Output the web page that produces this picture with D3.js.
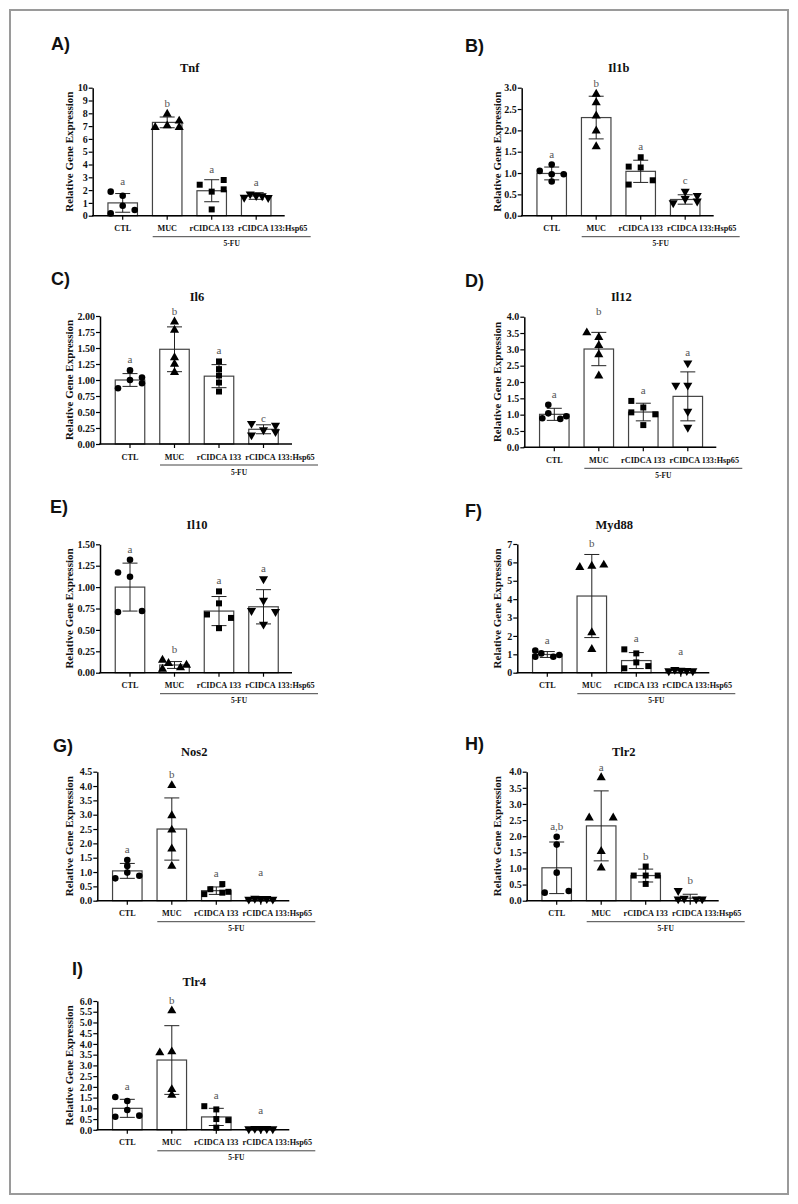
<!DOCTYPE html>
<html><head><meta charset="utf-8">
<script src="https://cdn.jsdelivr.net/npm/d3@7"></script>
<style>body{margin:0;background:#fff}</style>
</head><body>
<svg id="c" width="798" height="1204"></svg>
<script>
// ---------------- DATA ----------------
const groups = ["CTL", "MUC", "rCIDCA 133", "rCIDCA 133:Hsp65"];
const treatLabel = "5-FU";
const yLabelText = "Relative Gene Expression";

const tnfMean = [1.00, 7.29, 1.95, 1.54];
const tnfSD = [0.73, 0.42, 0.86, 0.26];
const tnfPoints = [[1.88,1.56,0.78,0.44,0.18],[6.90,7.94,7.03,7.40,6.90],[2.42,1.88,0.49,2.79,2.06],[1.43,1.69,1.56,1.54,1.41]];
const tnfLetters = ["a","b","a","a"];
const tnfTicks = [0,1,2,3,4,5,6,7,8,9,10];

const il1bMean = [0.99, 2.30, 1.04, 0.38];
const il1bSD = [0.15, 0.50, 0.26, 0.11];
const il1bPoints = [[1.05,1.20,0.97,0.80,0.97],[2.85,2.65,2.34,1.99,1.62],[1.15,1.37,1.13,0.73,0.83],[0.30,0.57,0.40,0.47,0.34]];
const il1bLetters = ["a","b","a","c"];
const il1bTicks = [0,0.5,1.0,1.5,2.0,2.5,3.0];

const il6Mean = [1.00, 1.48, 1.06, 0.23];
const il6SD = [0.10, 0.35, 0.18, 0.07];
const il6Points = [[0.87,1.15,1.00,1.04,0.95],[1.91,1.78,1.35,1.25,1.12],[1.29,1.17,1.07,0.96,0.82],[0.32,0.14,0.22,0.29,0.19]];
const il6Letters = ["a","b","a","c"];
const il6Ticks = [0,0.25,0.5,0.75,1.0,1.25,1.5,1.75,2.0];

const il12Mean = [1.01, 3.01, 1.08, 1.56];
const il12SD = [0.185, 0.51, 0.27, 0.75];
const il12Points = [[0.89,1.30,1.04,0.87,0.95],[3.51,3.37,3.12,2.84,2.19],[1.42,1.07,1.22,0.68,1.01],[1.90,2.58,1.90,1.10,0.61]];
const il12Letters = ["a","b","a","a"];
const il12Ticks = [0,0.5,1.0,1.5,2.0,2.5,3.0,3.5,4.0];

const il10Mean = [1.00, 0.09, 0.72, 0.77];
const il10SD = [0.28, 0.04, 0.17, 0.20];
const il10Points = [[1.17,1.32,1.12,0.71,0.72],[0.148,0.043,0.109,0.058,0.09],[0.68,0.95,0.81,0.52,0.64],[0.725,1.095,0.845,0.565,0.713]];
const il10Letters = ["a","b","a","a"];
const il10Ticks = [0,0.25,0.5,0.75,1.0,1.25,1.5];

const myd88Mean = [0.99, 4.17, 0.66, 0.13];
const myd88SD = [0.16, 2.26, 0.435, 0.03];
const myd88Points = [[1.20,0.87,1.05,0.87,0.96],[5.73,5.80,5.86,2.18,1.27],[1.27,1.05,0.56,0.24,0.36],[0.10,0.17,0.12,0.11,0.10]];
const myd88Letters = ["a","b","a","a"];
const myd88Ticks = [0,1,2,3,4,5,6,7];

const nos2Mean = [1.04, 2.50, 0.35, 0.06];
const nos2SD = [0.26, 1.085, 0.13, 0.02];
const nos2Points = [[0.78,1.42,1.21,0.98,0.87],[4.02,2.97,2.47,1.81,1.21],[0.23,0.40,0.58,0.28,0.31],[0.05,0.08,0.07,0.07,0.05]];
const nos2Letters = ["a","b","a","a"];
const nos2Ticks = [0,0.5,1.0,1.5,2.0,2.5,3.0,3.5,4.0,4.5];

const tlr2Mean = [1.02, 2.32, 0.78, 0.08];
const tlr2SD = [0.80, 1.085, 0.20, 0.12];
const tlr2Points = [[0.25,1.98,1.74,0.87,0.30],[2.57,3.82,1.53,1.02,2.57],[0.78,1.06,0.78,0.52,0.78],[0.31,0.05,0.07,0.05,0.05]];
const tlr2Letters = ["a,b","a","b","b"];
const tlr2Ticks = [0,0.5,1.0,1.5,2.0,2.5,3.0,3.5,4.0];

const tlr4Mean = [1.00, 3.25, 0.60, 0.05];
const tlr4SD = [0.42, 1.60, 0.40, 0.03];
const tlr4Points = [[1.53,1.34,0.92,0.61,0.66],[5.55,3.59,3.64,1.88,1.62],[1.10,0.95,0.50,0.45,0.10],[0.04,0.06,0.05,0.05,0.04]];
const tlr4Letters = ["a","b","a","a"];
const tlr4Ticks = [0,0.5,1.0,1.5,2.0,2.5,3.0,3.5,4.0,4.5,5.0,5.5,6.0];

// letter anchors (data units) where the letter sits not right above the data
const il6LetterAt = [null,null,null,0.227];
const il12LetterAt = [null,3.83,null,null];
const myd88LetterAt = [null,null,null,0.57];
const nos2LetterAt = [null,null,null,0.63];
const tlr4LetterAt = [null,null,null,0.41];

// ---------------- LAYOUT ----------------
const labelShift = [0, 0, 0, 16.5]; // x-label offsets from bar centres
const panels = [
  {tag:"A)", title:"Tnf",   mean:tnfMean,   sd:tnfSD,   pts:tnfPoints,   letters:tnfLetters,   ticks:tnfTicks,   fmt:"d",   x0:92.7,  y0:215.7, top:87.7,  tagX:70,  tagY:50,  left:true,
   jit:[[-2,0,0,2,-2],[-2,0,0,2,2],[-2,0,0,2,2],[-2,-1,0,1,2]]},
  {tag:"B)", title:"Il1b",  mean:il1bMean,  sd:il1bSD,  pts:il1bPoints,  letters:il1bLetters,  ticks:il1bTicks,  fmt:".1f", x0:521.7, y0:215.7, top:87.7,  tagX:465, tagY:52,  left:false,
   jit:[[-2,0,0,0,2],[0,0,0,0,0],[-2,0,0,-2,2],[-2,0,0,2,2]]},
  {tag:"C)", title:"Il6",   mean:il6Mean,   sd:il6SD,   pts:il6Points,   letters:il6Letters,   ticks:il6Ticks,   fmt:".2f", x0:100,   y0:444,   top:316,   tagX:70,  tagY:285, left:true, letterAt:il6LetterAt,
   jit:[[-2,0,0,2,2],[0,0,0,0,0],[0,0,0,0,0],[-2,-2,0,2,2]]},
  {tag:"D)", title:"Il12",  mean:il12Mean,  sd:il12SD,  pts:il12Points,  letters:il12Letters,  ticks:il12Ticks,  fmt:".1f", x0:524.3, y0:447.3, top:316.7, tagX:465, tagY:287, left:false, letterAt:il12LetterAt,
   jit:[[-2,-1,-1,1,2],[-2,0,0,0,0],[-2,-2,0,0,2],[-2,0,0,0,0]]},
  {tag:"E)", title:"Il10",  mean:il10Mean,  sd:il10SD,  pts:il10Points,  letters:il10Letters,  ticks:il10Ticks,  fmt:".2f", x0:100,   y0:672.7, top:544.3, tagX:68,  tagY:513, left:true,
   jit:[[-2,0,0,-2,2],[-2,-2,-1,1,2],[-2,0,0,0,2],[-2,0,0,0,2]]},
  {tag:"F)", title:"Myd88", mean:myd88Mean, sd:myd88SD, pts:myd88Points, letters:myd88Letters, ticks:myd88Ticks, fmt:"d",   x0:517.3, y0:672.7, top:544,   tagX:465, tagY:517, left:false, letterAt:myd88LetterAt,
   jit:[[-2,-2,-1,1,2],[-2,0,2,0,0],[-2,0,0,-2,2],[-2,-1,0,1,2]]},
  {tag:"G)", title:"Nos2",  mean:nos2Mean,  sd:nos2SD,  pts:nos2Points,  letters:nos2Letters,  ticks:nos2Ticks,  fmt:".1f", x0:97.3,  y0:900.7, top:771.7, tagX:73,  tagY:752, left:true, letterAt:nos2LetterAt,
   jit:[[-2,0,0,0,2],[0,0,0,0,0],[-2,-1,1,1,2],[-2,-1,0,1,2]]},
  {tag:"H)", title:"Tlr2",  mean:tlr2Mean,  sd:tlr2SD,  pts:tlr2Points,  letters:tlr2Letters,  ticks:tlr2Ticks,  fmt:".1f", x0:526.7, y0:900.7, top:771.7, tagX:465, tagY:750, left:false,
   jit:[[-2,0,0,0,2],[-2,0,0,0,2],[-2,0,0,0,2],[-2,-2,-1,1,2]]},
  {tag:"I)", title:"Tlr4",  mean:tlr4Mean,  sd:tlr4SD,  pts:tlr4Points,  letters:tlr4Letters,  ticks:tlr4Ticks,  fmt:".1f", x0:97.3,  y0:1129.8, top:1001, tagX:83,  tagY:975, left:true, letterAt:tlr4LetterAt,
   jit:[[-2,0,0,-2,2],[0,-2,0,0,0],[-2,0,0,2,0],[-2,-1,0,1,2]]}
];

const serif = "'Liberation Serif','Times New Roman',serif";
const sans = "'Liberation Sans',Arial,sans-serif";
const svg = d3.select("#c");

svg.append("rect").attr("x",10).attr("y",10).attr("width",778).attr("height",1184)
  .attr("fill","none").attr("stroke","#9a9a9a").attr("stroke-width",2);

const symbols = [
  d3.symbol().type(d3.symbolCircle).size(34),
  d3.symbol().type(d3.symbolTriangle).size(36),
  d3.symbol().type(d3.symbolSquare).size(36),
  d3.symbol().type(d3.symbolTriangle).size(36)
];
const rot = [0,0,0,180];

panels.forEach(p => {
  const g = svg.append("g");
  const maxV = p.ticks[p.ticks.length-1];
  const y = d3.scaleLinear().domain([0,maxV]).range([p.y0,p.top]);
  const x = d3.scaleBand().domain(groups).range([p.x0+7.75, p.x0+185.75]).paddingInner(0.337).paddingOuter(0.1685);
  const cx = gname => x(gname) + x.bandwidth()/2;
  const axisEnd = p.x0 + 192;

  // tag
  g.append("text").attr("x",p.tagX).attr("y",p.tagY)
    .attr("text-anchor", p.left ? "end" : "start")
    .attr("font-family",sans).attr("font-weight","bold").attr("font-size",18).attr("fill","#111").text(p.tag);
  // title
  g.append("text").attr("x",p.x0+97).attr("y",p.top-15.5).attr("text-anchor","middle")
    .attr("font-family",serif).attr("font-weight","bold").attr("font-size",12.5).attr("fill","#111").text(p.title);

  // bars
  g.selectAll("rect.bar").data(groups).enter().append("rect")
    .attr("x", d => x(d)).attr("width", x.bandwidth())
    .attr("y", (d,i) => y(p.mean[i])).attr("height", (d,i) => p.y0 - y(p.mean[i]))
    .attr("fill","#fff").attr("stroke","#444").attr("stroke-width",1.2);

  // error bars
  groups.forEach((gn,i) => {
    const c = cx(gn), hi = y(p.mean[i]+p.sd[i]), lo = y(Math.max(0,p.mean[i]-p.sd[i]));
    g.append("line").attr("x1",c).attr("x2",c).attr("y1",hi).attr("y2",lo).attr("stroke","#222").attr("stroke-width",1);
    [hi,lo].forEach(yy => g.append("line").attr("x1",c-7.5).attr("x2",c+7.5).attr("y1",yy).attr("y2",yy).attr("stroke","#222").attr("stroke-width",1));
  });

  // points
  groups.forEach((gn,i) => {
    const c = cx(gn);
    p.pts[i].forEach((v,k) => {
      g.append("path").attr("d", symbols[i]())
        .attr("transform", `translate(${c + p.jit[i][k]*6},${y(v)}) rotate(${rot[i]})`)
        .attr("fill","#000");
    });
  });

  // letters
  groups.forEach((gn,i) => {
    let anchor = Math.max(p.mean[i]+p.sd[i], d3.max(p.pts[i]));
    if (p.letterAt && p.letterAt[i] != null) anchor = p.letterAt[i];
    g.append("text").attr("x",cx(gn)).attr("y",y(anchor)-7).attr("text-anchor","middle")
      .attr("font-family",serif).attr("font-size",11).attr("fill","#555").text(p.letters[i]);
  });

  // y axis
  const ya = d3.axisLeft(y).tickValues(p.ticks).tickFormat(d3.format(p.fmt)).tickSize(4).tickSizeOuter(0).tickPadding(1);
  const yg = g.append("g").attr("transform",`translate(${p.x0},0)`).call(ya);
  yg.select(".domain").attr("stroke","#000").attr("stroke-width",1.5);
  yg.selectAll(".tick line").attr("stroke","#000").attr("stroke-width",1.2);
  yg.selectAll(".tick text").attr("font-family",serif).attr("font-weight","bold").attr("font-size",10).attr("fill","#111");

  // x axis
  g.append("line").attr("x1",p.x0-0.75).attr("x2",axisEnd).attr("y1",p.y0).attr("y2",p.y0).attr("stroke","#000").attr("stroke-width",1.5);
  const xa = d3.axisBottom(x).tickSize(4).tickFormat("");
  const xg = g.append("g").attr("transform",`translate(0,${p.y0})`).call(xa);
  xg.select(".domain").remove();
  xg.selectAll(".tick line").attr("stroke","#000").attr("stroke-width",1.2);
  groups.forEach((gn,i) => {
    g.append("text").attr("x",cx(gn)+labelShift[i]).attr("y",p.y0+15.5).attr("text-anchor","middle")
      .attr("font-family",serif).attr("font-weight","bold").attr("font-size",8.2).attr("fill","#111").text(gn);
  });
  g.append("line").attr("x1",p.x0+60).attr("x2",p.x0+218).attr("y1",p.y0+21).attr("y2",p.y0+21).attr("stroke","#444").attr("stroke-width",1);
  g.append("text").attr("x",p.x0+139).attr("y",p.y0+30.5).attr("text-anchor","middle")
    .attr("font-family",serif).attr("font-weight","bold").attr("font-size",7.5).attr("fill","#111").text(treatLabel);

  // y label
  const lx = p.left ? 68.5 : 497, ly = (p.top + p.y0)/2;
  g.append("text").attr("transform",`translate(${lx},${ly}) rotate(-90)`).attr("text-anchor","middle")
    .attr("dominant-baseline","central")
    .attr("font-family",serif).attr("font-weight","bold").attr("font-size",11).attr("fill","#111").text(yLabelText);
});
</script>
</body></html>
